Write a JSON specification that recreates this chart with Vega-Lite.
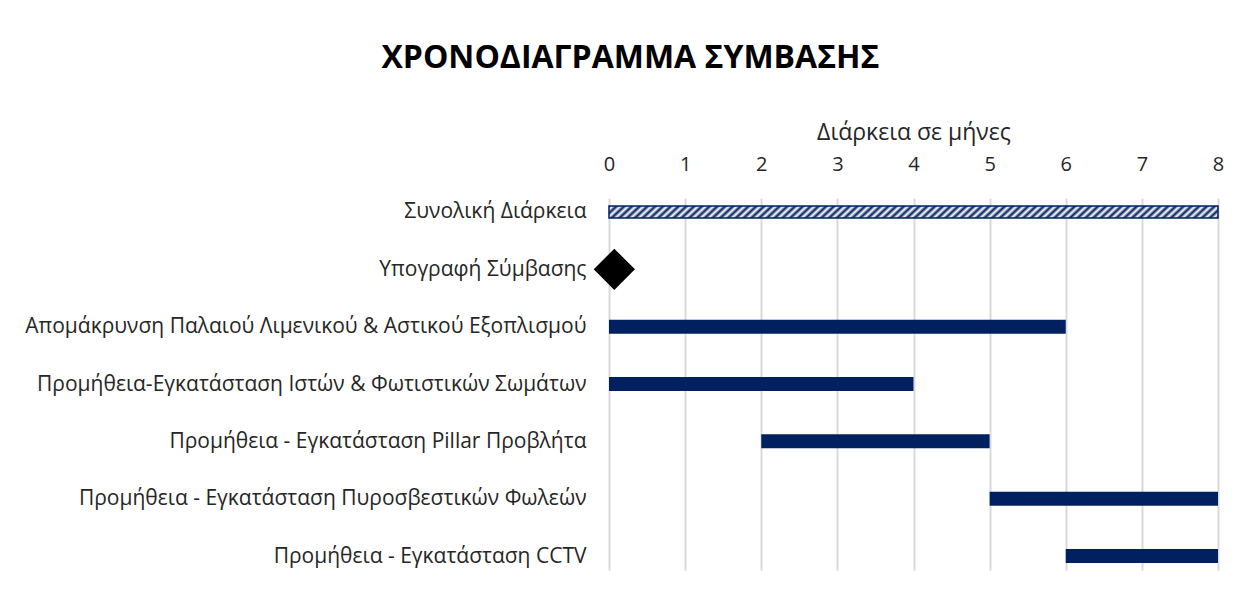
{
  "$schema": "https://vega.github.io/schema/vega-lite/v6.json",
  "width": 609,
  "height": 372,
  "autosize": {"type": "none"},
  "padding": {"left": 609, "top": 198, "right": 33, "bottom": 24},
  "background": "white",
  "title": {
    "text": "ΧΡΟΝΟΔΙΑΓΡΑΜΜΑ ΣΥΜΒΑΣΗΣ",
    "font": "Open Sans",
    "fontSize": 32,
    "fontWeight": "bold",
    "color": "#000000",
    "anchor": "middle",
    "dx": -283,
    "offset": 46
  },
  "config": {
    "view": {"stroke": null},
    "font": "Open Sans"
  },
  "data": {
    "values": [
      {"task": "Συνολική Διάρκεια", "start": 0, "end": 8, "kind": "total"},
      {"task": "Υπογραφή Σύμβασης", "start": 0.07, "end": null, "kind": "milestone"},
      {"task": "Απομάκρυνση Παλαιού Λιμενικού & Αστικού Εξοπλισμού", "start": 0, "end": 6, "kind": "task"},
      {"task": "Προμήθεια-Εγκατάσταση Ιστών & Φωτιστικών Σωμάτων", "start": 0, "end": 4, "kind": "task"},
      {"task": "Προμήθεια - Εγκατάσταση Pillar Προβλήτα", "start": 2, "end": 5, "kind": "task"},
      {"task": "Προμήθεια - Εγκατάσταση Πυροσβεστικών Φωλεών", "start": 5, "end": 8, "kind": "task"},
      {"task": "Προμήθεια - Εγκατάσταση CCTV", "start": 6, "end": 8, "kind": "task"}
    ]
  },
  "encoding": {
    "y": {
      "field": "task",
      "type": "nominal",
      "sort": null,
      "scale": {
        "type": "point",
        "padding": 0.244,
        "domain": [
          "Συνολική Διάρκεια",
          "Υπογραφή Σύμβασης",
          "Απομάκρυνση Παλαιού Λιμενικού & Αστικού Εξοπλισμού",
          "Προμήθεια-Εγκατάσταση Ιστών & Φωτιστικών Σωμάτων",
          "Προμήθεια - Εγκατάσταση Pillar Προβλήτα",
          "Προμήθεια - Εγκατάσταση Πυροσβεστικών Φωλεών",
          "Προμήθεια - Εγκατάσταση CCTV"
        ]
      },
      "axis": {
        "title": null,
        "domain": false,
        "ticks": false,
        "tickSize": 0,
        "grid": false,
        "labelPadding": 23,
        "labelFontSize": 21,
        "labelFont": "Open Sans",
        "labelColor": "#262626",
        "labelLimit": 800
      }
    },
    "x": {
      "field": "start",
      "type": "quantitative",
      "scale": {"domain": [0, 8], "nice": false, "zero": false},
      "axis": {
        "orient": "top",
        "title": "Διάρκεια σε μήνες",
        "titleFont": "Open Sans",
        "titleFontSize": 23,
        "titleFontWeight": "normal",
        "titleColor": "#262626",
        "titlePadding": 10,
        "values": [0, 1, 2, 3, 4, 5, 6, 7, 8],
        "format": "d",
        "domain": false,
        "ticks": false,
        "tickSize": 0,
        "labelFlush": false,
        "labelPadding": 24,
        "labelFontSize": 20,
        "labelFont": "Open Sans",
        "labelColor": "#262626",
        "grid": true,
        "gridColor": "#d9d9d9",
        "gridWidth": 2
      }
    }
  },
  "layer": [
    {
      "transform": [{"filter": "datum.kind === 'total'"}],
      "mark": {
        "type": "bar",
        "size": 12,
        "stroke": "#002060",
        "strokeWidth": 1.5,
        "fill": {
          "gradient": "linear",
          "x1": 0, "y1": 0, "x2": 1.02, "y2": 0.0217,
          "stops": [
{"offset":0,"color":"#002060"},{"offset":0.00625,"color":"#ffffff"},{"offset":0.0125,"color":"#002060"},{"offset":0.01875,"color":"#ffffff"},{"offset":0.025,"color":"#002060"},{"offset":0.03125,"color":"#ffffff"},{"offset":0.0375,"color":"#002060"},{"offset":0.04375,"color":"#ffffff"},{"offset":0.05,"color":"#002060"},{"offset":0.05625,"color":"#ffffff"},{"offset":0.0625,"color":"#002060"},{"offset":0.06875,"color":"#ffffff"},{"offset":0.075,"color":"#002060"},{"offset":0.08125,"color":"#ffffff"},{"offset":0.0875,"color":"#002060"},{"offset":0.09375,"color":"#ffffff"},
{"offset":0.1,"color":"#002060"},{"offset":0.10625,"color":"#ffffff"},{"offset":0.1125,"color":"#002060"},{"offset":0.11875,"color":"#ffffff"},{"offset":0.125,"color":"#002060"},{"offset":0.13125,"color":"#ffffff"},{"offset":0.1375,"color":"#002060"},{"offset":0.14375,"color":"#ffffff"},{"offset":0.15,"color":"#002060"},{"offset":0.15625,"color":"#ffffff"},{"offset":0.1625,"color":"#002060"},{"offset":0.16875,"color":"#ffffff"},{"offset":0.175,"color":"#002060"},{"offset":0.18125,"color":"#ffffff"},{"offset":0.1875,"color":"#002060"},{"offset":0.19375,"color":"#ffffff"},
{"offset":0.2,"color":"#002060"},{"offset":0.20625,"color":"#ffffff"},{"offset":0.2125,"color":"#002060"},{"offset":0.21875,"color":"#ffffff"},{"offset":0.225,"color":"#002060"},{"offset":0.23125,"color":"#ffffff"},{"offset":0.2375,"color":"#002060"},{"offset":0.24375,"color":"#ffffff"},{"offset":0.25,"color":"#002060"},{"offset":0.25625,"color":"#ffffff"},{"offset":0.2625,"color":"#002060"},{"offset":0.26875,"color":"#ffffff"},{"offset":0.275,"color":"#002060"},{"offset":0.28125,"color":"#ffffff"},{"offset":0.2875,"color":"#002060"},{"offset":0.29375,"color":"#ffffff"},
{"offset":0.3,"color":"#002060"},{"offset":0.30625,"color":"#ffffff"},{"offset":0.3125,"color":"#002060"},{"offset":0.31875,"color":"#ffffff"},{"offset":0.325,"color":"#002060"},{"offset":0.33125,"color":"#ffffff"},{"offset":0.3375,"color":"#002060"},{"offset":0.34375,"color":"#ffffff"},{"offset":0.35,"color":"#002060"},{"offset":0.35625,"color":"#ffffff"},{"offset":0.3625,"color":"#002060"},{"offset":0.36875,"color":"#ffffff"},{"offset":0.375,"color":"#002060"},{"offset":0.38125,"color":"#ffffff"},{"offset":0.3875,"color":"#002060"},{"offset":0.39375,"color":"#ffffff"},
{"offset":0.4,"color":"#002060"},{"offset":0.40625,"color":"#ffffff"},{"offset":0.4125,"color":"#002060"},{"offset":0.41875,"color":"#ffffff"},{"offset":0.425,"color":"#002060"},{"offset":0.43125,"color":"#ffffff"},{"offset":0.4375,"color":"#002060"},{"offset":0.44375,"color":"#ffffff"},{"offset":0.45,"color":"#002060"},{"offset":0.45625,"color":"#ffffff"},{"offset":0.4625,"color":"#002060"},{"offset":0.46875,"color":"#ffffff"},{"offset":0.475,"color":"#002060"},{"offset":0.48125,"color":"#ffffff"},{"offset":0.4875,"color":"#002060"},{"offset":0.49375,"color":"#ffffff"},
{"offset":0.5,"color":"#002060"},{"offset":0.50625,"color":"#ffffff"},{"offset":0.5125,"color":"#002060"},{"offset":0.51875,"color":"#ffffff"},{"offset":0.525,"color":"#002060"},{"offset":0.53125,"color":"#ffffff"},{"offset":0.5375,"color":"#002060"},{"offset":0.54375,"color":"#ffffff"},{"offset":0.55,"color":"#002060"},{"offset":0.55625,"color":"#ffffff"},{"offset":0.5625,"color":"#002060"},{"offset":0.56875,"color":"#ffffff"},{"offset":0.575,"color":"#002060"},{"offset":0.58125,"color":"#ffffff"},{"offset":0.5875,"color":"#002060"},{"offset":0.59375,"color":"#ffffff"},
{"offset":0.6,"color":"#002060"},{"offset":0.60625,"color":"#ffffff"},{"offset":0.6125,"color":"#002060"},{"offset":0.61875,"color":"#ffffff"},{"offset":0.625,"color":"#002060"},{"offset":0.63125,"color":"#ffffff"},{"offset":0.6375,"color":"#002060"},{"offset":0.64375,"color":"#ffffff"},{"offset":0.65,"color":"#002060"},{"offset":0.65625,"color":"#ffffff"},{"offset":0.6625,"color":"#002060"},{"offset":0.66875,"color":"#ffffff"},{"offset":0.675,"color":"#002060"},{"offset":0.68125,"color":"#ffffff"},{"offset":0.6875,"color":"#002060"},{"offset":0.69375,"color":"#ffffff"},
{"offset":0.7,"color":"#002060"},{"offset":0.70625,"color":"#ffffff"},{"offset":0.7125,"color":"#002060"},{"offset":0.71875,"color":"#ffffff"},{"offset":0.725,"color":"#002060"},{"offset":0.73125,"color":"#ffffff"},{"offset":0.7375,"color":"#002060"},{"offset":0.74375,"color":"#ffffff"},{"offset":0.75,"color":"#002060"},{"offset":0.75625,"color":"#ffffff"},{"offset":0.7625,"color":"#002060"},{"offset":0.76875,"color":"#ffffff"},{"offset":0.775,"color":"#002060"},{"offset":0.78125,"color":"#ffffff"},{"offset":0.7875,"color":"#002060"},{"offset":0.79375,"color":"#ffffff"},
{"offset":0.8,"color":"#002060"},{"offset":0.80625,"color":"#ffffff"},{"offset":0.8125,"color":"#002060"},{"offset":0.81875,"color":"#ffffff"},{"offset":0.825,"color":"#002060"},{"offset":0.83125,"color":"#ffffff"},{"offset":0.8375,"color":"#002060"},{"offset":0.84375,"color":"#ffffff"},{"offset":0.85,"color":"#002060"},{"offset":0.85625,"color":"#ffffff"},{"offset":0.8625,"color":"#002060"},{"offset":0.86875,"color":"#ffffff"},{"offset":0.875,"color":"#002060"},{"offset":0.88125,"color":"#ffffff"},{"offset":0.8875,"color":"#002060"},{"offset":0.89375,"color":"#ffffff"},
{"offset":0.9,"color":"#002060"},{"offset":0.90625,"color":"#ffffff"},{"offset":0.9125,"color":"#002060"},{"offset":0.91875,"color":"#ffffff"},{"offset":0.925,"color":"#002060"},{"offset":0.93125,"color":"#ffffff"},{"offset":0.9375,"color":"#002060"},{"offset":0.94375,"color":"#ffffff"},{"offset":0.95,"color":"#002060"},{"offset":0.95625,"color":"#ffffff"},{"offset":0.9625,"color":"#002060"},{"offset":0.96875,"color":"#ffffff"},{"offset":0.975,"color":"#002060"},{"offset":0.98125,"color":"#ffffff"},{"offset":0.9875,"color":"#002060"},{"offset":0.99375,"color":"#ffffff"},
{"offset":1,"color":"#002060"}
          ]
        }
      },
      "encoding": {
        "x2": {"field": "end"}
      }
    },
    {
      "transform": [{"filter": "datum.kind === 'task'"}],
      "mark": {"type": "bar", "size": 14, "color": "#002060"},
      "encoding": {
        "x2": {"field": "end"}
      }
    },
    {
      "transform": [{"filter": "datum.kind === 'milestone'"}],
      "mark": {"type": "point", "shape": "diamond", "filled": true, "color": "#000000", "opacity": 1, "size": 1700},
      "encoding": {}
    }
  ]
}
